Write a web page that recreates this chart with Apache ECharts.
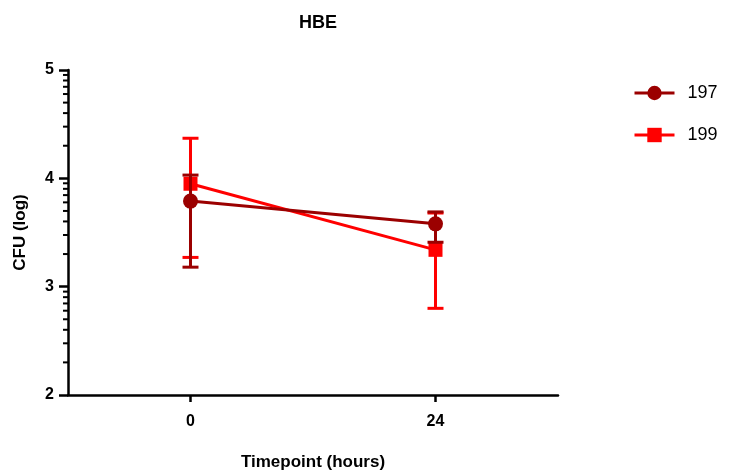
<!DOCTYPE html>
<html lang="en">
<head>
    <meta charset="UTF-8">
    <title>HBE</title>
    <script src="https://cdn.jsdelivr.net/npm/echarts@6/dist/echarts.min.js"></script>
</head>
<body style="margin:0">
    <div id="chart1" style="width:729px;height:476px;"></div>
    <script>
        var timepoints=[0,24]
        var mean197=[3.79,3.58]
        var low197=[3.18,3.41]
        var high197=[4.03,3.69]
        var mean199=[3.95,3.34]
        var low199=[3.27,2.80]
        var high199=[4.37,3.68]
        var yTicks=[2,3,4,5]
        var xTicks=[0,24]

        var font="Liberation Sans, Arial, sans-serif"
        var dark="#9b0000", red="#ff0000"

        // log style minor ticks inside each decade of the y axis
        var minorTicks=[]
        yTicks.slice(0,-1).forEach(function(d){
            for(var k=2;k<10;k++) minorTicks.push(d+Math.log10(k))
        })

        function errData(low,high){
            return timepoints.map(function(t,i){return [t,low[i],high[i]]})
        }
        function errBar(color){
            return function(params,api){
                var lo=api.coord([api.value(0),api.value(1)])
                var hi=api.coord([api.value(0),api.value(2)])
                var w=8
                var st={stroke:color,lineWidth:3}
                return {type:"group",children:[
                    {type:"line",shape:{x1:lo[0],y1:lo[1],x2:hi[0],y2:hi[1]},style:st},
                    {type:"line",shape:{x1:lo[0]-w,y1:lo[1],x2:lo[0]+w,y2:lo[1]},style:st},
                    {type:"line",shape:{x1:hi[0]-w,y1:hi[1],x2:hi[0]+w,y2:hi[1]},style:st}
                ]}
            }
        }

        var myCharts=echarts.init(document.getElementById("chart1"))
        var option={
            animation:false,
            title:{
                text:"HBE",
                left:313,
                top:9,
                textAlign:"center",
                textStyle:{fontFamily:font,fontWeight:"bold",fontSize:18,color:"#000"}
            },
            legend:{
                orient:"vertical",
                left:628,
                top:79,
                itemWidth:40,
                itemHeight:18,
                itemGap:24,
                data:["197","199"],
                lineStyle:{width:3},
                textStyle:{fontFamily:font,fontSize:18,color:"#000",padding:[0,0,0,8]}
            },
            grid:{left:68,right:171,top:70,bottom:81},
            xAxis:{
                type:"value",
                min:-12,max:36,interval:12,
                name:"Timepoint (hours)",
                nameLocation:"middle",
                nameGap:59,
                nameTextStyle:{fontFamily:font,fontWeight:"bold",fontSize:17,color:"#000"},
                axisLine:{onZero:false,lineStyle:{color:"#000",width:2.5}},
                axisTick:{customValues:xTicks,length:7,lineStyle:{color:"#000",width:2.5}},
                axisLabel:{
                    margin:19,color:"#000",
                    formatter:function(v){return xTicks.indexOf(v)>=0?"{t|"+v+"}":""},
                    rich:{t:{fontFamily:font,fontWeight:"bold",fontSize:16,color:"#000"}}
                },
                splitLine:{show:false}
            },
            yAxis:{
                type:"value",
                min:2,max:5,interval:1,
                name:"CFU (log)",
                nameLocation:"middle",
                nameRotate:90,
                nameGap:39,
                nameTextStyle:{fontFamily:font,fontWeight:"bold",fontSize:17,color:"#000"},
                axisLine:{show:true,onZero:false,lineStyle:{color:"#000",width:2.5}},
                axisTick:{show:true,length:9,lineStyle:{color:"#000",width:2.5}},
                axisLabel:{margin:14,fontFamily:font,fontWeight:"bold",fontSize:16,color:"#000"},
                splitLine:{show:false}
            },
            series:[
                {
                    type:"custom",
                    silent:true,
                    clip:false,
                    data:minorTicks,
                    encode:{y:0},
                    renderItem:function(params,api){
                        var p=api.coord([-12,api.value(0)])
                        return {type:"line",shape:{x1:p[0]-5,y1:p[1],x2:p[0]+1,y2:p[1]},style:{stroke:"#000",lineWidth:2}}
                    }
                },
                {
                    type:"custom",
                    data:errData(low199,high199),
                    renderItem:errBar(red),
                    z:2
                },
                {
                    name:"199",
                    type:"line",
                    data:timepoints.map(function(t,i){return [t,mean199[i]]}),
                    color:red,
                    symbol:"rect",
                    symbolSize:14,
                    lineStyle:{width:3,color:red},
                    itemStyle:{color:red},
                    z:3
                },
                {
                    type:"custom",
                    data:errData(low197,high197),
                    renderItem:errBar(dark),
                    z:4
                },
                {
                    name:"197",
                    type:"line",
                    data:timepoints.map(function(t,i){return [t,mean197[i]]}),
                    color:dark,
                    symbol:"circle",
                    symbolSize:15,
                    lineStyle:{width:3,color:dark},
                    itemStyle:{color:dark},
                    z:5
                }
            ]
        }
        myCharts.setOption(option)
    </script>
</body>
</html>
